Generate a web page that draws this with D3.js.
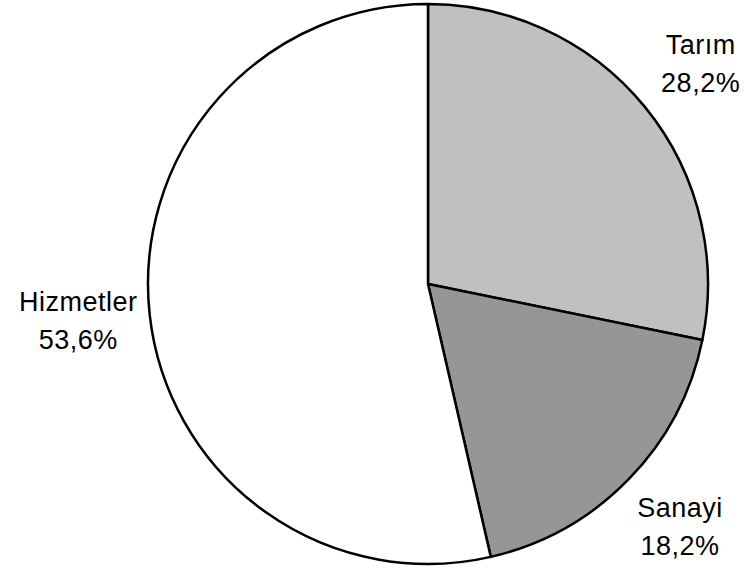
<!DOCTYPE html>
<html><head><meta charset="utf-8">
<script src="https://cdn.jsdelivr.net/npm/d3@7"></script>
<style>html,body{margin:0;padding:0;background:#fff;}</style>
</head><body>
<svg id="chart" width="744" height="569"></svg>
<script>
const categories = ["Tarım", "Sanayi", "Hizmetler"];
const values = [28.2, 18.2, 53.6];
const valueLabels = ["28,2%", "18,2%", "53,6%"];
const colors = ["#c0c0c0", "#969696", "#ffffff"];

const svg = d3.select("#chart");
const cx = 428, cy = 284, R = 280, labelR = 352;
const g = svg.append("g").attr("transform", `translate(${cx},${cy})`);
const pie = d3.pie().sort(null).value(d => d)(values);
const arc = d3.arc().innerRadius(0).outerRadius(R);
const labelArc = d3.arc().innerRadius(labelR).outerRadius(labelR);

g.selectAll("path").data(pie).join("path")
  .attr("d", arc)
  .attr("fill", (d, i) => colors[i])
  .attr("stroke", "#000")
  .attr("stroke-width", 2.5)
  .attr("stroke-linejoin", "round");

const lab = g.selectAll("text").data(pie).join("text")
  .attr("transform", d => {
    const [x, y] = labelArc.centroid(d);
    // labels in the upper half sit slightly lower (box placed below the anchor)
    return `translate(${x},${y + (y < -150 ? 6 : 0)})`;
  })
  .attr("text-anchor", "middle")
  .attr("font-family", "Liberation Sans, Arial, sans-serif")
  .attr("font-size", 27)
  .attr("letter-spacing", 0.5)
  .attr("fill", "#000");
lab.append("tspan").attr("x", 0).attr("y", -13).text((d, i) => categories[i]);
lab.append("tspan").attr("x", 0).attr("y", 25).text((d, i) => valueLabels[i]);
</script>
</body></html>
